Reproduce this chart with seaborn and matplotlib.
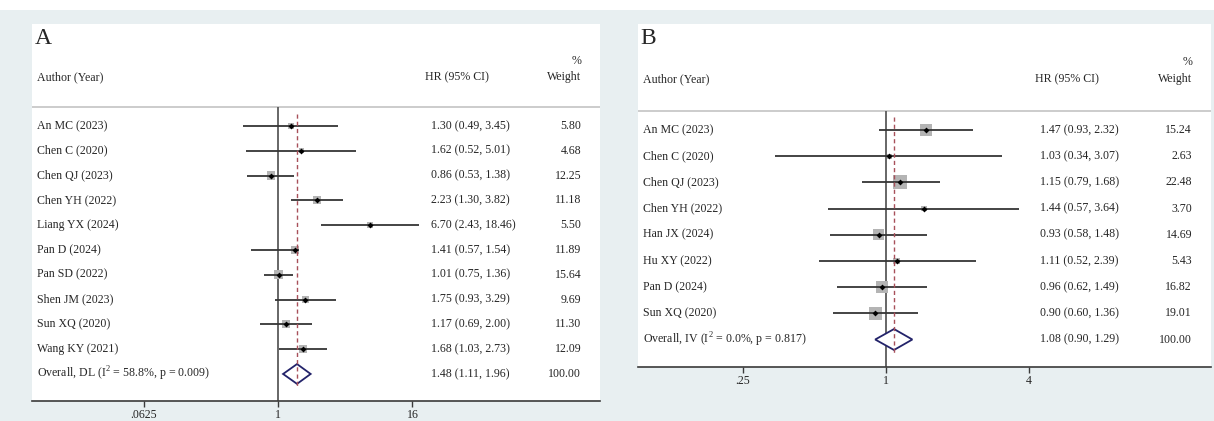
import matplotlib
matplotlib.use("Agg")
import matplotlib.pyplot as plt
import matplotlib.transforms as mtransforms
from matplotlib.patches import Rectangle
import numpy as np
import pandas as pd
import seaborn as sns

# --- data panel A (random effects, DL) ---
authors_a = ["An MC (2023)", "Chen C (2020)", "Chen QJ (2023)", "Chen YH (2022)",
             "Liang YX (2024)", "Pan D (2024)", "Pan SD (2022)", "Shen JM (2023)",
             "Sun XQ (2020)", "Wang KY (2021)"]
hr_a = [1.30, 1.62, 0.86, 2.23, 6.70, 1.41, 1.01, 1.75, 1.17, 1.68]
lo_a = [0.49, 0.52, 0.53, 1.30, 2.43, 0.57, 0.75, 0.93, 0.69, 1.03]
hi_a = [3.45, 5.01, 1.38, 3.82, 18.46, 1.54, 1.36, 3.29, 2.00, 2.73]
w_a = [5.80, 4.68, 12.25, 11.18, 5.50, 11.89, 15.64, 9.69, 11.30, 12.09]
overall_a = (1.48, 1.11, 1.96)
overall_lab_a = r"Overall, DL (I$^{\mathregular{2}}$ = 58.8%, p = 0.009)"
ticks_a = [0.0625, 1, 16]
ticklabels_a = [".0625", "1", "16"]

# --- data panel B (fixed effects, IV) ---
authors_b = ["An MC (2023)", "Chen C (2020)", "Chen QJ (2023)", "Chen YH (2022)",
             "Han JX (2024)", "Hu XY (2022)", "Pan D (2024)", "Sun XQ (2020)"]
hr_b = [1.47, 1.03, 1.15, 1.44, 0.93, 1.11, 0.96, 0.90]
lo_b = [0.93, 0.34, 0.79, 0.57, 0.58, 0.52, 0.62, 0.60]
hi_b = [2.32, 3.07, 1.68, 3.64, 1.48, 2.39, 1.49, 1.36]
w_b = [15.24, 2.63, 22.48, 3.70, 14.69, 5.43, 16.82, 19.01]
overall_b = (1.08, 0.90, 1.29)
overall_lab_b = r"Overall, IV (I$^{\mathregular{2}}$ = 0.0%, p = 0.817)"
ticks_b = [0.25, 1, 4]
ticklabels_b = [".25", "1", "4"]

sns.set_style("white")
plt.rcParams['font.family'] = ['Liberation Serif', 'DejaVu Serif']
plt.rcParams['mathtext.fontset'] = 'custom'
plt.rcParams['mathtext.rm'] = 'Liberation Serif'

BG = "#e8eff1"
W, H = 1214, 421
fig = plt.figure(figsize=(W / 100, H / 100), dpi=100, facecolor=BG)
fig.patches.append(Rectangle((0, 1 - 10 / H), 1, 10 / H, transform=fig.transFigure,
                             facecolor="white", edgecolor="none", zorder=-1))


def draw_panel(ax, letter, authors, hr, lo, hi, w, overall, overall_lab,
               ticks, ticklabels, xlim, ylim, hdr, box_k):
    n = len(authors)
    df = pd.DataFrame({"author": authors, "hr": hr, "lo": lo, "hi": hi, "w": w,
                       "row": np.arange(n)})
    ax.set_facecolor("white")
    ax.set_xscale("log", base=2)
    ax.set_xlim(*xlim)
    ax.set_ylim(*ylim)

    sep_y, hdr_y, pct_y, let_y = hdr
    # header separator and null line
    ax.axhline(sep_y, color="#c8c8c8", lw=1.3, zorder=1)
    ax.vlines(1, sep_y, ylim[0], color="#5a5a5a", lw=1.3, zorder=2)

    # weight boxes (area ~ weight)
    sns.scatterplot(data=df, x="hr", y="row", size="w", sizes=(0, box_k * 100),
                    size_norm=(0, 100), marker="s", color="#b4b4b4", linewidth=0,
                    legend=False, ax=ax, zorder=3)
    ax.hlines(df["row"], df["lo"], df["hi"], color="#353535", lw=1.3, zorder=4)
    sns.scatterplot(data=df, x="hr", y="row", marker="D", s=9, color="black",
                    linewidth=0, legend=False, ax=ax, zorder=5)

    # overall diamond
    est, olo, ohi = overall
    dh = 0.4
    ax.fill([olo, est, ohi, est, olo], [n, n - dh, n, n + dh, n],
            facecolor="white", edgecolor="#23236a", lw=1.3, zorder=5)
    ax.vlines(est, -0.5, n + 0.5, color="#a8505a", lw=1.0, linestyles=(0, (3, 2.2)),
              zorder=6)

    # text columns
    tr = mtransforms.blended_transform_factory(ax.transAxes, ax.transData)
    fs = 8.6
    xl, xh, xw = 0.008, 0.702, 0.967
    for i, a in enumerate(authors):
        ax.text(xl, i, a, transform=tr, ha="left", va="center", fontsize=fs)
        ax.text(xh, i, f"{hr[i]:.2f} ({lo[i]:.2f}, {hi[i]:.2f})", transform=tr,
                ha="left", va="center", fontsize=fs)
        ax.text(xw, i, f"{w[i]:.2f}", transform=tr, ha="right", va="center", fontsize=fs)
    ax.text(xl, n, overall_lab, transform=tr, ha="left", va="center", fontsize=fs)
    ax.text(xh, n, f"{est:.2f} ({olo:.2f}, {ohi:.2f})", transform=tr,
            ha="left", va="center", fontsize=fs)
    ax.text(xw, n, "100.00", transform=tr, ha="right", va="center", fontsize=fs)

    ax.text(xl, hdr_y, "Author (Year)", transform=tr, ha="left", va="center", fontsize=fs)
    ax.text(xh - 0.01, hdr_y, "HR (95% CI)", transform=tr, ha="left", va="center", fontsize=fs)
    ax.text(xw, hdr_y, "Weight", transform=tr, ha="right", va="center", fontsize=fs)
    ax.text(xw, pct_y, "%", transform=tr, ha="right", va="center", fontsize=fs)
    ax.text(0.004, let_y, letter, transform=tr, ha="left", va="center", fontsize=17)

    # axis styling
    for s in ["top", "left", "right"]:
        ax.spines[s].set_visible(False)
    ax.spines["bottom"].set_color("#3a3a3a")
    ax.spines["bottom"].set_linewidth(1.2)
    ax.set_xticks(ticks)
    ax.set_xticklabels(ticklabels)
    ax.xaxis.set_minor_locator(matplotlib.ticker.NullLocator())
    ax.tick_params(axis="x", direction="out", length=4, width=1, color="#3a3a3a",
                   labelsize=fs, pad=2, bottom=True)
    ax.set_yticks([])
    ax.set_xlabel("")
    ax.set_ylabel("")


# panel A: white box x 32..600 px, y 24..401 px; rows at 126 + 24.8*i
ax_a = fig.add_axes([32 / W, (H - 401) / H, 568 / W, 377 / H])
draw_panel(ax_a, "A", authors_a, hr_a, lo_a, hi_a, w_a, overall_a, overall_lab_a,
           ticks_a, ticklabels_a,
           xlim=(2 ** -7.32, 2 ** 9.58), ylim=(11.09, -4.11),
           hdr=(-0.77, -1.98, -2.62, -3.51), box_k=2.86)

# panel B: white box x 638..1211 px, y 24..367 px; rows at 130 + 26.2*i
ax_b = fig.add_axes([638 / W, (H - 367) / H, 573 / W, 343 / H])
draw_panel(ax_b, "B", authors_b, hr_b, lo_b, hi_b, w_b, overall_b, overall_lab_b,
           ticks_b, ticklabels_b,
           xlim=(2 ** -3.47, 2 ** 4.545), ylim=(9.05, -4.05),
           hdr=(-0.73, -1.95, -2.6, -3.51), box_k=4.51)

fig.savefig("out.png", dpi=100, facecolor=BG)
